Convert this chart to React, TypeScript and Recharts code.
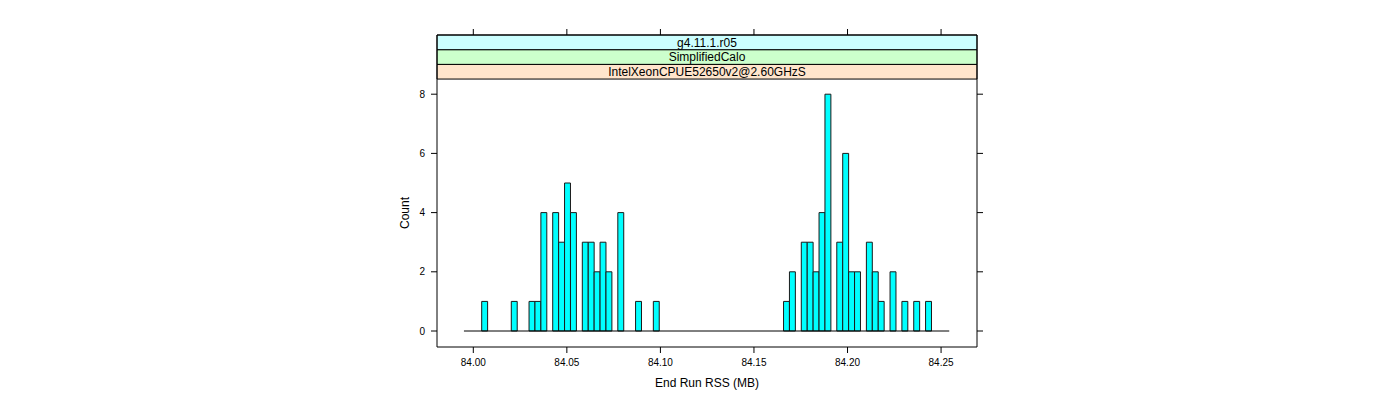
import {
  BarChart,
  Bar,
  XAxis,
  YAxis,
  ReferenceArea,
  ReferenceLine,
} from 'recharts'

// histogram counts, one per bin (82 bins of equal width)
const counts = [
  0, 0, 0, 1, 0, 0, 0, 0, 1, 0,
  0, 1, 1, 4, 0, 4, 3, 5, 4, 0,
  3, 3, 2, 3, 2, 0, 4, 0, 0, 1,
  0, 0, 1, 0, 0, 0, 0, 0, 0, 0,
  0, 0, 0, 0, 0, 0, 0, 0, 0, 0,
  0, 0, 0, 0, 1, 2, 0, 3, 3, 2,
  4, 8, 0, 3, 6, 2, 2, 0, 3, 2,
  1, 0, 2, 0, 1, 0, 1, 0, 1, 0,
  0, 0,
]
const binStart = 83.995
const binWidth = 0.003163

const xTicks = [84.0, 84.05, 84.1, 84.15, 84.2, 84.25]
const yTicks = [0, 2, 4, 6, 8]
const xDomain: [number, number] = [83.9806, 84.2692]
const yDomain: [number, number] = [-0.54, 10]

// strips, bottom to top (lattice draws the first level nearest the panel)
const stripLabels = ['IntelXeonCPUE52650v2@2.60GHzS', 'SimplifiedCalo', 'g4.11.1.r05']
const stripColors = ['#ffe5cc', '#ccffcc', '#ccffff']
const stripHeight = 0.496

const rows = counts.map((count, i) => ({
  bin: i,
  mid: binStart + (i + 0.5) * binWidth,
  count,
}))

const binEnd = binStart + counts.length * binWidth

// plot geometry
const WIDTH = 1400
const HEIGHT = 400
const PLOT_W = 540
const xSpan = xDomain[1] - xDomain[0]
const padLeft = ((binStart - xDomain[0]) / xSpan) * PLOT_W
const padRight = ((xDomain[1] - binEnd) / xSpan) * PLOT_W
const barSize = (PLOT_W - padLeft - padRight) / counts.length

const panelTop = yDomain[1] - stripLabels.length * stripHeight

const tickStyle = { fill: '#000', fontSize: 10 }

export default function App() {
  return (
    <div
      style={{
        position: 'absolute',
        left: 0,
        top: 0,
        width: WIDTH,
        height: HEIGHT,
        background: '#fff',
        fontFamily: '"Liberation Sans", Arial, sans-serif',
      }}
    >
      <BarChart
        width={WIDTH}
        height={HEIGHT}
        data={rows}
        margin={{ top: 25, right: 403, bottom: 0, left: 397 }}
        barCategoryGap={0}
        barGap={0}
      >
        <XAxis
          xAxisId="num"
          type="number"
          dataKey="mid"
          domain={xDomain}
          allowDataOverflow
          ticks={xTicks}
          tickFormatter={(v: number) => v.toFixed(2)}
          tick={tickStyle}
          tickSize={6}
          tickMargin={6}
          height={53}
          stroke="#000"
          label={{
            value: 'End Run RSS (MB)',
            position: 'insideBottom',
            offset: 13,
            fill: '#000',
            fontSize: 12,
          }}
        />
        <XAxis
          xAxisId="bins"
          dataKey="bin"
          type="category"
          hide
          height={0}
          padding={{ left: padLeft, right: padRight }}
        />
        <XAxis
          xAxisId="top"
          orientation="top"
          type="number"
          dataKey="mid"
          domain={xDomain}
          allowDataOverflow
          ticks={xTicks}
          tickFormatter={() => ''}
          tickSize={6}
          height={10}
          stroke="#000"
        />
        <YAxis
          domain={yDomain}
          allowDataOverflow
          ticks={yTicks}
          tick={tickStyle}
          tickSize={6}
          tickMargin={6}
          width={40}
          stroke="#000"
          label={{
            value: 'Count',
            angle: -90,
            position: 'insideLeft',
            offset: 8,
            dy: 22,
            fill: '#000',
            fontSize: 12,
            style: { textAnchor: 'middle' },
          }}
        />
        <YAxis
          yAxisId="right"
          orientation="right"
          domain={yDomain}
          allowDataOverflow
          ticks={yTicks}
          tickFormatter={() => ''}
          tickSize={6}
          width={20}
          stroke="#000"
        />
        {stripLabels.map((label, i) => (
          <ReferenceArea
            key={label}
            xAxisId="num"
            x1={xDomain[0]}
            x2={xDomain[1]}
            y1={panelTop + i * stripHeight}
            y2={panelTop + (i + 1) * stripHeight}
            fill={stripColors[i]}
            fillOpacity={1}
            stroke="#000"
            strokeWidth={1}
            label={{ value: label, position: 'center', fill: '#000', fontSize: 12 }}
          />
        ))}
        <ReferenceLine
          xAxisId="num"
          segment={[
            { x: binStart, y: 0 },
            { x: binEnd, y: 0 },
          ]}
          stroke="#000"
        />
        <Bar
          xAxisId="bins"
          dataKey="count"
          fill="#00ffff"
          stroke="#1a1a1a"
          strokeWidth={1}
          barSize={barSize}
          isAnimationActive={false}
        />
      </BarChart>
    </div>
  )
}
